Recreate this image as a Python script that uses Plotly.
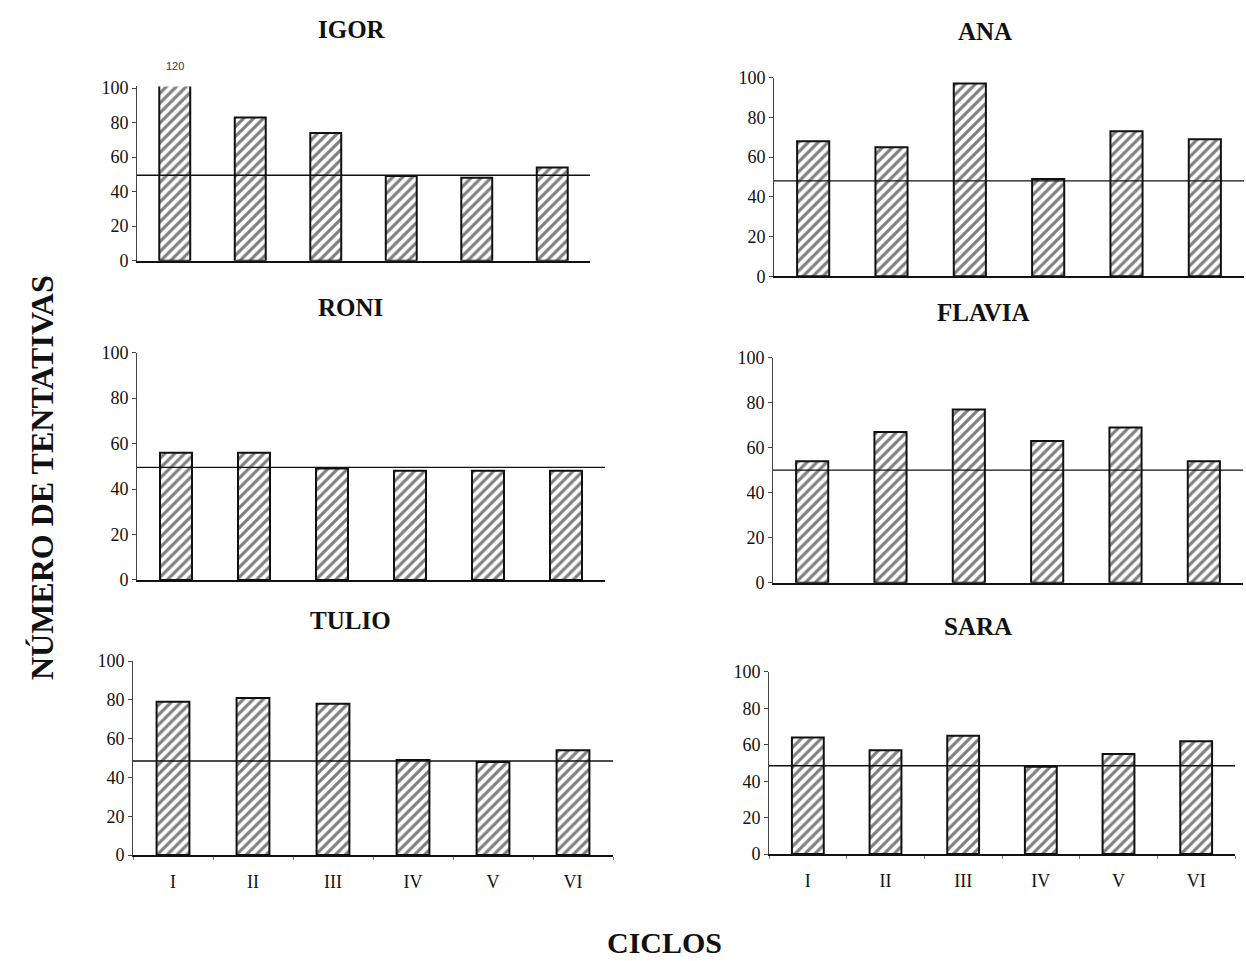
import plotly.graph_objects as go

W, H = 1246, 961

# Data: number of attempts per cycle for each participant
ciclos = ["I", "II", "III", "IV", "V", "VI"]
igor = [120, 83, 74, 49, 48, 54]
ana = [68, 65, 97, 49, 73, 69]
roni = [56, 56, 49, 48, 48, 48]
flavia = [54, 67, 77, 63, 69, 54]
tulio = [79, 81, 78, 49, 48, 54]
sara = [64, 57, 65, 48, 55, 62]
criterio = [49.5, 48, 49.5, 50, 48.5, 48.5]   # horizontal criterion line per panel
y_ticks = [0, 20, 40, 60, 80, 100]

names = ["IGOR", "ANA", "RONI", "FLAVIA", "TULIO", "SARA"]
series = [igor, ana, roni, flavia, tulio, sara]
y_max = [101, 100, 100, 100, 100, 100]

# panel placement in pixels: (left, right, top-of-range, zero line)
boxes = [
    (137, 590, 78, 256),
    (774, 1244, 69, 272),
    (137, 605, 350, 582),
    (773, 1243, 355, 585),
    (133, 613, 665, 863),
    (769, 1235, 676, 862),
]
title_pos = [(352, 20), (985, 22), (350, 304), (983, 309), (350, 623), (978, 630)]

SERIF = "Liberation Serif"
INK = "#111111"

fig = go.Figure()
layout = dict(
    width=W, height=H, autosize=False,
    margin=dict(l=0, r=0, t=0, b=0),
    paper_bgcolor="white", plot_bgcolor="white",
    showlegend=False,
    font=dict(family=SERIF, color=INK),
)
shapes, annotations = [], []

for i, (name, vals) in enumerate(zip(names, series)):
    n = i + 1
    xa = "x" if n == 1 else f"x{n}"
    ya = "y" if n == 1 else f"y{n}"
    left, right, top, bottom = boxes[i]
    bottom_row = i >= 4

    fig.add_trace(go.Bar(
        x=ciclos, y=vals, xaxis=xa, yaxis=ya, width=0.41,
        marker=dict(
            color="white",
            line=dict(color=INK, width=2),
            pattern=dict(shape="/", fgcolor="#000000", bgcolor="white",
                         size=7, solidity=0.45),
        ),
        hoverinfo="x+y",
    ))

    layout["xaxis" if n == 1 else f"xaxis{n}"] = dict(
        domain=[left / W, right / W], anchor=ya,
        type="category", range=[-0.5, 5.5],
        showline=True, linecolor=INK, linewidth=1.6,
        showgrid=False, zeroline=False,
        showticklabels=bottom_row,
        ticks="outside" if bottom_row else "", tickson="boundaries",
        ticklen=3, tickcolor="#777777", ticklabelstandoff=10,
        tickfont=dict(family=SERIF, size=18, color=INK),
    )
    layout["yaxis" if n == 1 else f"yaxis{n}"] = dict(
        domain=[1 - bottom / H, 1 - top / H], anchor=xa,
        range=[0, y_max[i]], tickvals=y_ticks,
        showline=True, linecolor="#444444", linewidth=1,
        ticks="outside", ticklen=4, tickcolor="#444444",
        showgrid=False, zeroline=False,
        tickfont=dict(family=SERIF, size=18, color=INK),
    )

    # criterion line across the panel
    shapes.append(dict(
        type="line", xref=f"{xa} domain", yref=ya,
        x0=0, x1=1, y0=criterio[i], y1=criterio[i],
        line=dict(color=INK, width=1.3),
    ))

    tx, ty = title_pos[i]
    annotations.append(dict(
        text=f"<b>{name}</b>", xref="paper", yref="paper",
        x=tx / W, y=1 - ty / H, xanchor="center", yanchor="middle",
        showarrow=False, font=dict(family=SERIF, size=25, color=INK),
    ))

    # value label for bars that exceed the axis range
    for c, v in zip(ciclos, vals):
        if v > y_max[i]:
            annotations.append(dict(
                text=str(v), xref=xa, yref=ya, x=c, y=y_max[i],
                yanchor="bottom", yshift=12, showarrow=False,
                font=dict(family="Liberation Sans", size=11, color="#333333"),
            ))

annotations.append(dict(
    text="<b>NÚMERO DE TENTATIVAS</b>", xref="paper", yref="paper",
    x=42 / W, y=1 - 478 / H, xanchor="center", yanchor="middle",
    textangle=-90, showarrow=False,
    font=dict(family=SERIF, size=32, color=INK),
))
annotations.append(dict(
    text="<b>CICLOS</b>", xref="paper", yref="paper",
    x=664 / W, y=1 - 952 / H, xanchor="center", yanchor="middle",
    showarrow=False, font=dict(family=SERIF, size=30, color=INK),
))

layout["shapes"] = shapes
layout["annotations"] = annotations
fig.update_layout(**layout)

fig.write_html("out.html")
